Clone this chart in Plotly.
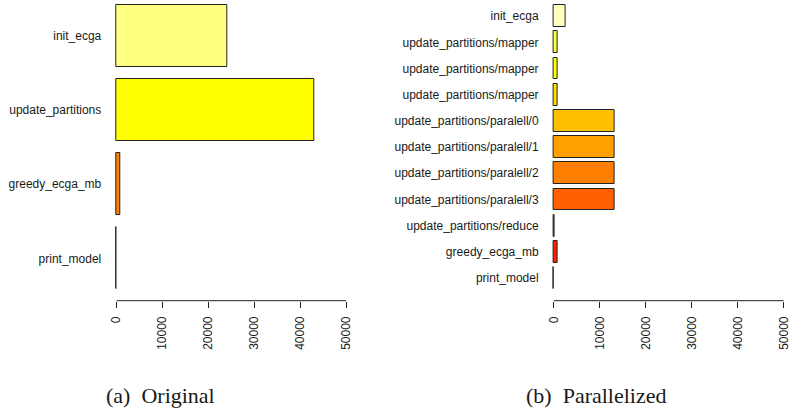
import plotly.graph_objects as go

# ---- data ----
orig_labels = ["init_ecga", "update_partitions", "greedy_ecga_mb", "print_model"]
orig_values = [24100, 43000, 700, 30]
orig_colors = ["#FFFF80", "#FFFF00", "#FF8000", "#FF0000"]

par_labels = ["init_ecga", "update_partitions/mapper", "update_partitions/mapper",
              "update_partitions/mapper", "update_partitions/paralell/0",
              "update_partitions/paralell/1", "update_partitions/paralell/2",
              "update_partitions/paralell/3", "update_partitions/reduce",
              "greedy_ecga_mb", "print_model"]
par_values = [2500, 900, 900, 900, 13300, 13300, 13300, 13300, 60, 900, 30]
par_colors = ["#FFFFBF", "#FFFF40", "#FFFF00", "#FFDF00", "#FFBF00", "#FF9F00",
              "#FF8000", "#FF6000", "#FF4000", "#FF2000", "#FF0000"]

x_ticks = [0, 10000, 20000, 30000, 40000, 50000]
captions = ["(a)\u00a0\u00a0Original", "(b)\u00a0\u00a0Parallelized"]

W, H = 796, 411
fig = go.Figure()

fig.add_trace(go.Bar(
    x=orig_values, y=list(range(len(orig_labels))), orientation="h",
    width=1 / 1.2, marker=dict(color=orig_colors, line=dict(color="#222", width=1)),
    xaxis="x", yaxis="y", showlegend=False, hoverinfo="x+text", text=orig_labels,
    textposition="none"))
fig.add_trace(go.Bar(
    x=par_values, y=list(range(len(par_labels))), orientation="h",
    width=1 / 1.2, marker=dict(color=par_colors, line=dict(color="#222", width=1)),
    xaxis="x2", yaxis="y2", showlegend=False, hoverinfo="x+text", text=par_labels,
    textposition="none"))

px_per = 233.4 / 50000.0
ext = 500
axis_bottom_px = 300.7
ydom = [(H - axis_bottom_px) / H, 1.0]

def xdom(zero_px):
    return [(zero_px - ext * px_per) / W, (zero_px + 50000 * px_per) / W]

tickfont = dict(family="Liberation Sans, Arial, Helvetica, sans-serif", size=12, color="#1a1a1a")

xcommon = dict(range=[-ext, 50000], tickvals=x_ticks, ticktext=[str(v) for v in x_ticks],
               tickangle=-90, ticks="outside", ticklen=6, tickwidth=1, tickcolor="#222",
               showgrid=False, zeroline=False, showline=False, tickfont=tickfont,
               ticklabelstandoff=4, fixedrange=True)

def yrange(n, c0, pitch):
    return [(axis_bottom_px - c0) / pitch, -c0 / pitch]

ycommon = dict(showgrid=False, zeroline=False, showline=False, ticks="",
               tickfont=tickfont, ticklabelstandoff=12, domain=ydom, fixedrange=True)

fig.update_layout(
    width=W, height=H, margin=dict(l=0, r=0, t=0, b=0),
    paper_bgcolor="white", plot_bgcolor="white",
    xaxis=dict(domain=xdom(113.3), anchor="y", **xcommon),
    xaxis2=dict(domain=xdom(557.3), anchor="y2", **xcommon),
    yaxis=dict(anchor="x", range=yrange(4, 36.0, 74.1),
               tickvals=list(range(len(orig_labels))), ticktext=orig_labels, **ycommon),
    yaxis2=dict(anchor="x2", range=yrange(11, 16.2, 26.18),
                tickvals=list(range(len(par_labels))), ticktext=par_labels, **ycommon),
    bargap=0,
)

# axis lines spanning 0..50000, as in R
for xr, yr in (("x", "y domain"), ("x2", "y2 domain")):
    fig.add_shape(type="line", xref=xr, yref=yr, x0=0, x1=50000, y0=0, y1=0,
                  line=dict(color="#222", width=1))

capfont = dict(family="Liberation Serif, Times New Roman, serif", size=22, color="#1a1a1a")
for cx, txt in ((157.5, captions[0]), (601, captions[1])):
    fig.add_annotation(text=txt, xref="paper", yref="paper", x=cx / W, y=(H - 395) / H,
                       xanchor="center", yanchor="middle", showarrow=False, font=capfont)

fig.write_html("out.html")
